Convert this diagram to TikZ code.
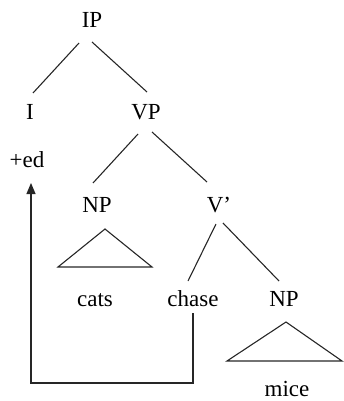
\documentclass[tikz,border=0pt]{standalone}
\usepackage{fontspec}
\setmainfont{Liberation Serif}
\usetikzlibrary{calc,arrows.meta}
\begin{document}
\begin{tikzpicture}[x=1pt,y=-1pt,
  lab/.style={anchor=base,inner sep=0pt,font=\fontsize{23}{26}\selectfont},
  edge/.style={line width=1.1pt,draw=black!85},
  mover/.style={line width=1.1pt,draw=black!85,-{Triangle[length=11pt,width=9pt]}}]
\useasboundingbox (0,0) rectangle (343,401);
\node[lab] (IP) at (92,28) {IP};
\node[lab] (I) at (30,119) {I};
\node[lab] (VP) at (146,119) {VP};
\node[lab] (ed) at (27,167) {+ed};
\node[lab] (NPa) at (97,212) {NP};
\node[lab] (Vbar) at (219,212) {V’};
\node[lab] (cats) at (95,306) {cats};
\node[lab] (chase) at (193,306) {chase};
\node[lab] (NPb) at (284,306) {NP};
\node[lab] (mice) at (287,396) {mice};
\draw[edge] ($(IP.base)+(-13,15)$) -- ($(I.base)+(3,-26)$);
\draw[edge] ($(IP.base)+(0,14)$) -- ($(VP.base)+(1,-27)$);
\draw[edge] ($(VP.base)+(-8,15)$) -- ($(NPa.base)+(-4,-29)$);
\draw[edge] ($(VP.base)+(6,13)$) -- ($(Vbar.base)+(-12,-30)$);
\draw[edge] ($(Vbar.base)+(-3,12)$) -- ($(chase.base)+(-5,-25)$);
\draw[edge] ($(Vbar.base)+(4,11)$) -- ($(NPb.base)+(-5,-25)$);
\draw[edge,line join=miter] ($(NPa.base)+(8,17)$) -- ($(NPa.base)+(-39,55)$) -- ($(NPa.base)+(55,55)$) -- cycle;
\draw[edge,line join=miter] ($(NPb.base)+(2,16)$) -- ($(NPb.base)+(-57,55)$) -- ($(NPb.base)+(58,55)$) -- cycle;
\coordinate (turn) at (31,383);
\draw[mover] ($(chase.base)+(0,7)$) |- (turn) -- ($(ed.base)+(4,16)$);
\end{tikzpicture}
\end{document}
